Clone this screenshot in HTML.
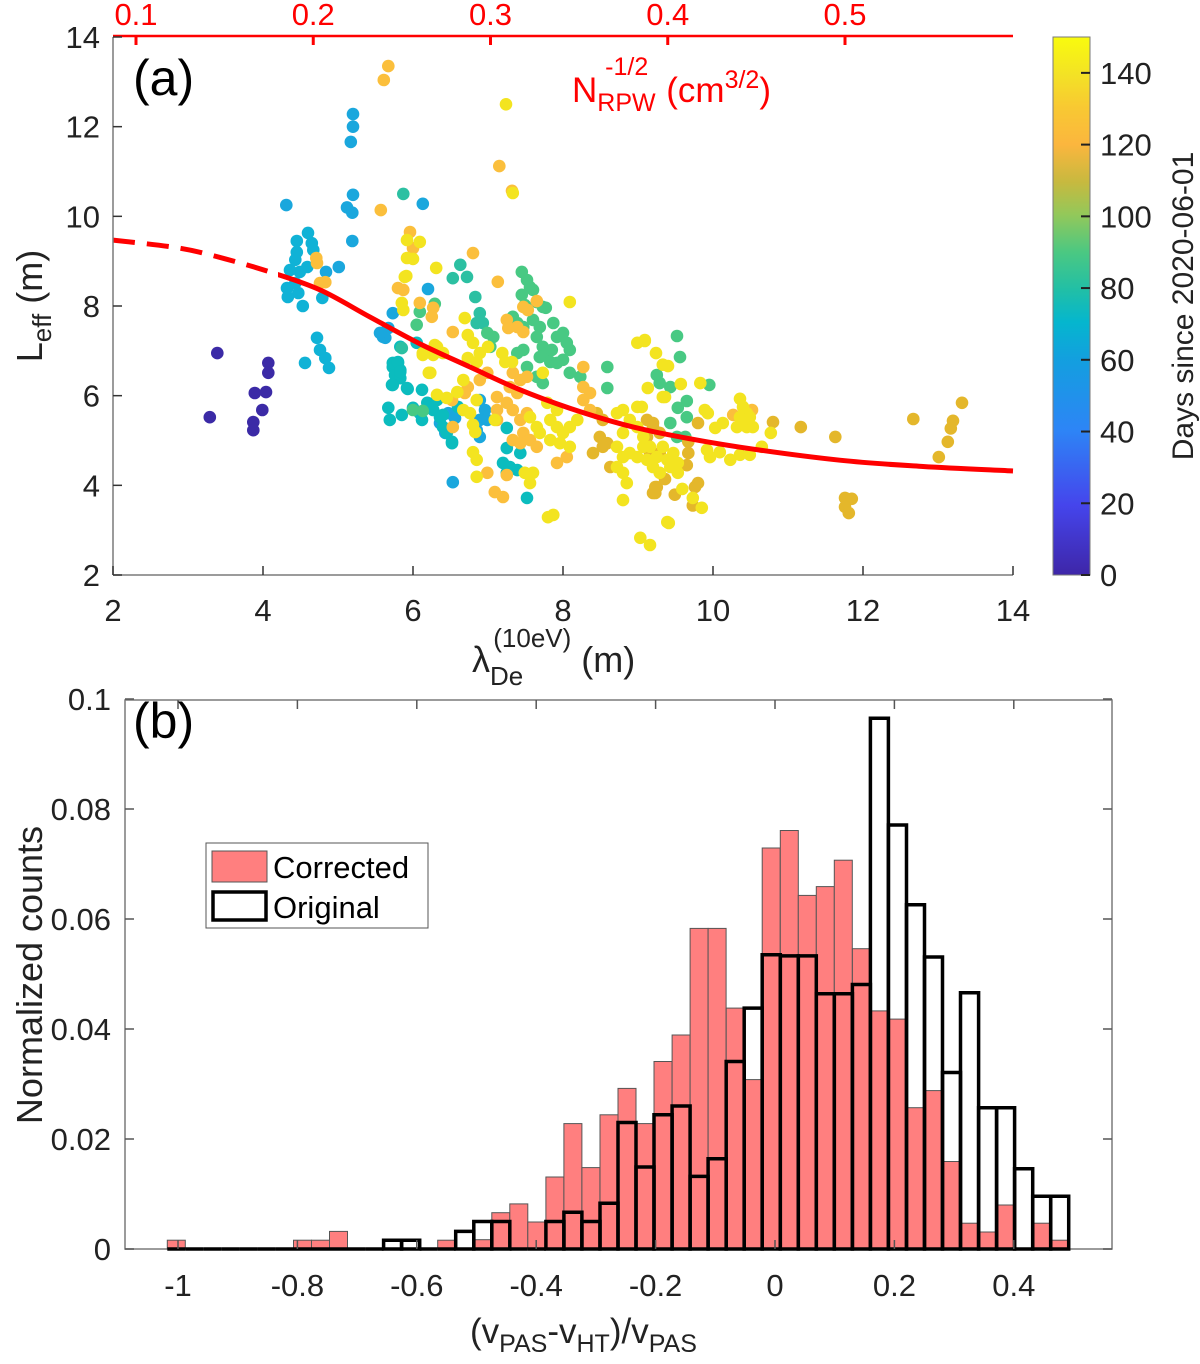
<!DOCTYPE html>
<html><head><meta charset="utf-8"><style>
body{margin:0;background:#fff}
svg{display:block;font-family:"Liberation Sans",Arial,sans-serif}
</style></head><body>
<svg id="fig" width="1200" height="1364" viewBox="0 0 1200 1364" xmlns="http://www.w3.org/2000/svg">
<defs>
<linearGradient id="parula" x1="0" y1="1" x2="0" y2="0">
<stop offset="0" stop-color="#3e26a8"/><stop offset="0.13" stop-color="#4545ec"/><stop offset="0.27" stop-color="#2d85f6"/><stop offset="0.4" stop-color="#139fdf"/><stop offset="0.47" stop-color="#05b6ce"/><stop offset="0.53" stop-color="#21bfa6"/><stop offset="0.6" stop-color="#4bc882"/><stop offset="0.67" stop-color="#93c85a"/><stop offset="0.73" stop-color="#c7b93f"/><stop offset="0.8" stop-color="#fbb63e"/><stop offset="0.87" stop-color="#f8c932"/><stop offset="0.93" stop-color="#f3e225"/><stop offset="1" stop-color="#f9fb0e"/>
</linearGradient>
</defs>
<g id="pa"></g>
<g id="pb"></g>
</svg>
<script>
// ---------- Panel (a) data ----------
const groupDays = [3, 55, 62, 68, 80, 90, 115, 123, 143];
const groupColors = ["#3b2aa6", "#1aa7dd", "#10b2d6", "#0bbcbe", "#2cc0a2", "#48c983", "#e4b72b", "#fbbf3c", "#f3e420"];
const ptsDay3 = [[3.39,6.95],[3.29,5.52],[4.07,6.73],[4.07,6.51],[3.89,6.06],[4.04,6.08],[3.99,5.68],[3.87,5.41],[3.87,5.23]];
const ptsDay55 = [[4.31,10.25],[5.2,12.28],[5.2,12.0],[5.17,11.66],[5.2,10.48],[5.12,10.2],[5.19,10.08],[5.19,9.45],[6.13,10.28],[5.73,7.84],[5.59,7.4],[5.63,7.29],[5.67,7.51],[5.6,7.31],[5.56,7.4],[6.2,8.38],[6.53,4.07],[6.47,5.61],[6.56,5.5],[6.89,5.9],[6.96,5.68],[6.89,5.46],[6.99,5.46],[6.85,5.23],[6.89,5.08],[5.01,8.87],[4.84,8.76],[6.36,5.39],[6.43,5.17]];
const ptsDay62 = [[4.6,9.63],[4.45,9.45],[4.65,9.4],[4.67,9.25],[4.45,9.2],[4.43,9.03],[4.36,8.8],[4.49,8.76],[4.59,8.87],[4.32,8.4],[4.43,8.51],[4.47,8.29],[4.33,8.2],[4.53,8.0],[4.79,8.18],[4.72,7.29],[4.76,7.02],[4.83,6.84],[4.88,6.62],[4.56,6.73]];
const ptsDay68 = [[5.8,6.73],[5.73,6.64],[5.83,6.57],[5.76,6.46],[5.83,6.39],[5.73,6.24],[5.93,6.15],[6.12,6.13],[5.67,5.73],[5.69,5.46],[5.85,5.57],[6.0,5.73],[6.09,5.61],[6.19,5.84],[6.27,5.68],[6.36,5.52],[6.12,5.46],[6.4,5.3],[6.45,5.17],[6.52,4.97],[5.73,6.73],[5.8,6.75],[5.83,6.53],[5.72,6.24],[5.92,6.17],[6.2,5.75],[6.32,5.9],[6.4,5.57],[6.6,5.75],[6.52,4.94],[7.25,4.83],[7.2,4.5],[7.29,4.41],[7.39,4.34],[7.25,4.28],[7.43,4.72],[7.52,3.72],[7.25,5.28],[6.05,7.18],[5.83,7.09]];
const ptsDay80 = [[5.87,10.5],[5.85,7.06],[6.63,8.92],[6.53,8.62],[6.72,8.65],[6.83,8.2],[6.89,7.84],[6.93,7.62],[6.85,7.62]];
const ptsDay90 = [[6.13,5.66],[6.09,7.87],[6.29,8.05],[6.05,7.58],[7.45,8.76],[7.52,8.58],[7.56,8.42],[7.45,8.25],[7.6,8.36],[7.49,8.02],[7.65,8.09],[7.73,7.98],[7.77,7.96],[6.99,7.4],[7.07,7.31],[7.03,7.09],[7.33,7.76],[7.39,7.62],[7.47,7.53],[7.6,7.69],[7.69,7.53],[7.65,7.31],[7.73,7.09],[7.79,6.95],[7.85,7.02],[7.92,7.31],[8.0,7.4],[8.05,7.18],[7.87,7.62],[7.69,6.86],[7.83,6.75],[7.92,6.73],[8.0,6.8],[8.09,7.02],[7.39,6.95],[7.47,7.02],[7.52,6.64],[7.65,6.42],[7.73,6.28],[8.59,6.64],[8.59,6.17],[8.23,6.42],[8.09,6.51],[9.25,6.46],[9.52,7.33],[9.56,6.86],[9.29,6.28],[9.43,6.19],[9.95,6.24],[9.65,5.88],[9.53,5.73],[9.65,5.52],[9.43,5.39],[9.52,5.08],[9.63,5.08],[6.0,5.68]];
const ptsDay115 = [[8.63,4.41],[9.12,5.46],[9.2,5.3],[9.29,5.17],[9.12,5.08],[9.25,3.96],[9.2,3.83],[10.8,5.41],[11.17,5.3],[11.63,5.08],[12.67,5.48],[13.32,5.84],[13.2,5.44],[13.17,5.27],[13.13,4.97],[13.01,4.63],[11.76,3.72],[11.85,3.7],[11.76,3.52],[11.81,3.38],[9.67,4.72],[9.65,4.45],[9.36,4.14],[9.23,3.96],[9.23,3.83],[9.49,3.79],[9.76,3.96],[9.8,4.05],[9.73,3.55],[9.67,4.97],[9.8,5.39],[9.2,5.39],[8.45,5.61],[8.53,5.46],[8.49,5.08],[8.59,4.94],[8.4,4.72],[8.53,4.86],[9.16,4.72],[9.29,4.72]];
const ptsDay123 = [[5.57,10.14],[5.67,13.35],[5.61,13.04],[4.71,9.07],[4.72,8.96],[4.76,8.51],[4.83,8.53],[5.96,9.65],[6.0,9.29],[5.8,8.4],[5.87,8.36],[6.09,8.07],[6.27,7.96],[6.25,7.76],[6.8,9.18],[7.13,8.54],[7.47,7.98],[7.53,7.91],[7.65,8.11],[7.25,7.69],[7.39,7.53],[7.47,7.42],[7.27,7.51],[7.33,6.51],[7.43,6.35],[7.52,6.42],[7.29,6.19],[7.39,6.06],[7.25,5.84],[7.33,5.68],[7.43,5.46],[7.52,5.61],[7.47,5.17],[7.56,5.01],[7.65,4.86],[7.43,4.94],[7.33,5.01],[7.92,4.5],[8.05,4.63],[7.12,5.68],[7.12,5.46],[7.12,5.97],[6.99,6.51],[6.89,6.35],[6.73,6.19],[6.69,6.06],[6.52,5.9],[6.53,5.3],[8.27,6.64],[8.27,6.19],[8.36,6.06],[8.27,5.9],[8.36,5.68],[6.99,4.28],[7.09,3.85],[7.2,3.74],[7.25,4.23],[7.15,11.12],[7.32,10.57],[10.27,5.57],[10.52,5.68],[6.53,7.42]];
const ptsDay143 = [[5.92,9.47],[6.09,9.43],[5.92,9.07],[6.0,9.05],[6.31,8.85],[5.91,8.67],[5.85,8.07],[5.87,7.91],[6.13,6.91],[6.21,6.51],[6.29,7.13],[6.4,6.95],[7.33,10.52],[7.24,12.5],[5.89,8.65],[8.09,8.09],[8.99,7.18],[9.09,7.24],[9.24,6.95],[9.33,6.69],[9.13,6.17],[9.33,5.97],[6.69,7.73],[6.73,7.35],[6.8,7.18],[6.89,6.95],[7.0,7.09],[6.73,6.84],[6.85,6.75],[6.67,6.35],[6.59,6.08],[6.32,6.02],[6.45,5.95],[6.85,5.9],[6.76,5.61],[6.67,5.68],[6.83,5.19],[6.8,4.74],[6.85,4.57],[6.85,4.19],[7.09,5.46],[6.23,6.51],[6.13,6.95],[6.32,7.09],[6.27,6.91],[7.19,6.95],[7.23,6.75],[7.32,6.75],[7.73,6.51],[7.56,5.52],[7.65,5.3],[7.83,5.46],[7.92,5.3],[8.0,5.17],[8.09,5.3],[8.19,5.46],[7.83,5.01],[7.96,4.94],[8.09,4.86],[7.69,5.17],[7.79,5.84],[7.92,5.68],[8.72,5.61],[8.8,5.68],[8.99,5.75],[8.89,5.46],[8.99,5.3],[8.8,5.17],[8.72,4.86],[8.89,4.72],[8.99,4.63],[8.8,4.63],[8.72,4.41],[8.8,4.28],[8.85,4.05],[8.8,3.67],[9.07,4.86],[9.25,4.63],[9.33,4.86],[9.2,4.41],[9.29,4.28],[6.8,5.35],[7.49,4.28],[7.6,4.28],[7.56,4.05],[7.8,3.29],[7.87,3.34],[9.03,2.83],[9.16,2.67],[9.39,3.18],[9.09,7.22],[9.4,6.66],[9.57,6.26],[9.83,6.28],[9.36,5.97],[9.89,5.68],[9.93,5.61],[10.36,5.93],[10.4,5.75],[10.45,5.61],[10.36,5.52],[10.49,5.52],[10.32,5.3],[10.45,5.3],[10.53,5.3],[10.4,5.46],[10.03,5.28],[10.13,5.39],[10.77,5.17],[9.92,4.79],[9.96,4.63],[10.09,4.74],[10.23,4.57],[10.36,4.68],[10.49,4.68],[10.65,4.86],[9.53,4.28],[9.59,3.92],[9.73,3.72],[9.85,3.5],[9.41,3.16],[9.07,5.08],[9.16,4.86],[9.39,4.57],[9.12,4.57],[9.47,4.72],[9.43,4.41],[9.53,4.5],[9.05,5.75]];
const pointGroups = [ptsDay3, ptsDay55, ptsDay62, ptsDay68, ptsDay80, ptsDay90, ptsDay115, ptsDay123, ptsDay143];
const fitX = [2, 2.89, 3.5, 4.09, 4.76, 5.43, 6.1, 6.76, 7.4, 8.09, 8.8, 9.43, 10.36, 11.69, 12.8, 14];
const fitY = [9.47, 9.29, 9.05, 8.76, 8.36, 7.75, 7.15, 6.64, 6.15, 5.72, 5.36, 5.12, 4.85, 4.56, 4.42, 4.32];
const fitDashEnd = 4.2;
const xTicksA = [2, 4, 6, 8, 10, 12, 14];
const yTicksA = [2, 4, 6, 8, 10, 12, 14];
const topTicks = [0.1, 0.2, 0.3, 0.4, 0.5];
const cbTicks = [0, 20, 40, 60, 80, 100, 120, 140];

// ---------- Panel (b) data ----------
const binStart = -1.018;
const binWidth = 0.0302;
const correctedCounts = [0.0016,0,0,0,0,0,0,0.0016,0.0016,0.0032,0,0,0,0,0,0.0016,0,0.0017,0.0066,0.0082,0.0049,0.0131,0.0228,0.0148,0.0244,0.0292,0.0228,0.0341,0.0389,0.0583,0.0583,0.0438,0.0308,0.0729,0.0761,0.0643,0.0659,0.0707,0.0546,0.0433,0.0418,0.0257,0.0288,0.0159,0.0047,0.0031,0.008,0,0.0047,0.0016];
const originalCounts = [0,0,0,0,0,0,0,0,0,0,0,0,0.0016,0.0016,0,0,0.0032,0.005,0.005,0,0,0.005,0.0067,0.005,0.0083,0.023,0.0149,0.0244,0.026,0.0132,0.0164,0.0341,0.0438,0.0535,0.0533,0.0533,0.0464,0.0464,0.0481,0.0965,0.0771,0.0626,0.0531,0.0321,0.0466,0.0257,0.0257,0.0146,0.0096,0.0096];
const xTicksB = [-1, -0.8, -0.6, -0.4, -0.2, 0, 0.2, 0.4];
const yTicksB = [0, 0.02, 0.04, 0.06, 0.08, 0.1];

const NS = "http://www.w3.org/2000/svg";
function mk(parent, tag, attrs, text) {
  const e = document.createElementNS(NS, tag);
  for (const k in attrs) e.setAttribute(k, attrs[k]);
  if (text !== undefined) e.textContent = text;
  parent.appendChild(e);
  return e;
}
const pa = document.getElementById("pa");
const pb = document.getElementById("pb");

const AX0 = 113, AX1 = 1013, AY0 = 575, AY1 = 37;
const xa = v => AX0 + (v - 2) / 12 * (AX1 - AX0);
const ya = v => AY0 - (v - 2) / 12 * (AY0 - AY1);
const xTop = v => 136 + (v - 0.1) / 0.4 * (845 - 136);
const cbY = d => 575 - d / 150 * 538;

pointGroups.forEach((grp, gi) => {
  const g = mk(pa, "g", {fill: groupColors[gi]});
  
  
  grp.forEach(p => {
    const c = mk(g, "circle", {cx: xa(p[0]).toFixed(1), cy: ya(p[1]).toFixed(1), r: 6.3});
    
    
  });
});

function smoothPath(px, py) {
  let d = "M" + px[0].toFixed(1) + "," + py[0].toFixed(1);
  for (let i = 0; i < px.length - 1; i++) {
    const i0 = Math.max(0, i - 1), i3 = Math.min(px.length - 1, i + 2);
    const c1x = px[i] + (px[i + 1] - px[i0]) / 6, c1y = py[i] + (py[i + 1] - py[i0]) / 6;
    const c2x = px[i + 1] - (px[i3] - px[i]) / 6, c2y = py[i + 1] - (py[i3] - py[i]) / 6;
    d += " C" + c1x.toFixed(1) + "," + c1y.toFixed(1) + " " + c2x.toFixed(1) + "," + c2y.toFixed(1) + " " + px[i + 1].toFixed(1) + "," + py[i + 1].toFixed(1);
  }
  return d;
}
const fpx = fitX.map(xa), fpy = fitY.map(ya);
const curvePath = smoothPath(fpx, fpy);
const clipD = mk(document.querySelector("defs"), "clipPath", {id: "clipDash"});
mk(clipD, "rect", {x: 0, y: 0, width: xa(fitDashEnd), height: 700});
const clipS = mk(document.querySelector("defs"), "clipPath", {id: "clipSolid"});
mk(clipS, "rect", {x: xa(fitDashEnd), y: 0, width: 1200, height: 700});
const fd = mk(pa, "path", {d: curvePath, fill: "none", stroke: "#ff0000", "stroke-width": 5, "stroke-dasharray": "22,12", "clip-path": "url(#clipDash)"});


const fs = mk(pa, "path", {d: curvePath, fill: "none", stroke: "#ff0000", "stroke-width": 5, "clip-path": "url(#clipSolid)"});



const axl = mk(pa, "line", {x1: AX0, y1: AY1, x2: AX0, y2: AY0, stroke: "#7a7a7a", "stroke-width": 1.5});


const axb = mk(pa, "line", {x1: AX0, y1: AY0, x2: AX1, y2: AY0, stroke: "#7a7a7a", "stroke-width": 1.5});


const axt = mk(pa, "line", {x1: AX0, y1: 36, x2: AX1, y2: 36, stroke: "#ff0000", "stroke-width": 2.5});


yTicksA.forEach(v => {
  mk(pa, "line", {x1: AX0, y1: ya(v), x2: AX0 + 9, y2: ya(v), stroke: "#333", "stroke-width": 1.5});
  const t = mk(pa, "text", {x: 100, y: ya(v) + 11, "text-anchor": "end", "font-size": 31, fill: "#222"}, String(v));
  
  
});
xTicksA.forEach(v => {
  mk(pa, "line", {x1: xa(v), y1: AY0, x2: xa(v), y2: AY0 - 9, stroke: "#333", "stroke-width": 1.5});
  const t = mk(pa, "text", {x: xa(v), y: 621, "text-anchor": "middle", "font-size": 31, fill: "#222"}, String(v));
  
  
});
topTicks.forEach(v => {
  mk(pa, "line", {x1: xTop(v), y1: 36, x2: xTop(v), y2: 45, stroke: "#ff0000", "stroke-width": 3});
  const t = mk(pa, "text", {x: xTop(v), y: 25, "text-anchor": "middle", "font-size": 31, fill: "#ff0000"}, String(v));
  
  
});

const cb = mk(pa, "rect", {x: 1053, y: 37, width: 37, height: 538, fill: "url(#parula)", stroke: "#7a7a7a", "stroke-width": 1});


cbTicks.forEach(v => {
  mk(pa, "line", {x1: 1081, y1: cbY(v), x2: 1090, y2: cbY(v), stroke: "#222", "stroke-width": 2});
  const t = mk(pa, "text", {x: 1100, y: cbY(v) + 11, "font-size": 31, fill: "#222"}, String(v));
  
  
});

// ---------- Panel b ----------
const BX0 = 125, BX1 = 1112, BY0 = 1249, BY1 = 700;
const xb = v => 775 + v * 597;
const yb = v => BY0 - v / 0.1 * (BY0 - 699);
const frame = mk(pb, "rect", {x: BX0, y: BY1, width: BX1 - BX0, height: BY0 - BY1, fill: "none", stroke: "#7a7a7a", "stroke-width": 1.5});


correctedCounts.forEach((v, k) => {
  if (v <= 0) return;
  const x0 = xb(binStart + k * binWidth), x1 = xb(binStart + (k + 1) * binWidth);
  const r = mk(pb, "rect", {x: x0.toFixed(1), y: yb(v).toFixed(1), width: (x1 - x0).toFixed(1), height: (BY0 - yb(v)).toFixed(1), fill: "#ff7f7f", stroke: "#555", "stroke-width": 1});
  
  
});
originalCounts.forEach((v, k) => {
  const x0 = xb(binStart + k * binWidth).toFixed(1), x1 = xb(binStart + (k + 1) * binWidth).toFixed(1);
  const yt = yb(v).toFixed(1);
  const r = mk(pb, "path", {d: "M" + x0 + "," + BY0 + " V" + yt + " H" + x1 + " V" + BY0 + " Z", fill: "none", stroke: "#000", "stroke-width": 3.5, "stroke-linejoin": "miter"});
  
  
});
yTicksB.forEach(v => {
  mk(pb, "line", {x1: BX0, y1: yb(v), x2: BX0 + 9, y2: yb(v), stroke: "#555", "stroke-width": 1.5});
  mk(pb, "line", {x1: BX1, y1: yb(v), x2: BX1 - 9, y2: yb(v), stroke: "#555", "stroke-width": 1.5});
  const t = mk(pb, "text", {x: 111, y: yb(v) + 11, "text-anchor": "end", "font-size": 31, fill: "#222"}, String(v));
  
  
});
xTicksB.forEach(v => {
  mk(pb, "line", {x1: xb(v), y1: BY0, x2: xb(v), y2: BY0 - 9, stroke: "#555", "stroke-width": 1.5});
  mk(pb, "line", {x1: xb(v), y1: BY1, x2: xb(v), y2: BY1 + 9, stroke: "#555", "stroke-width": 1.5});
  const t = mk(pb, "text", {x: xb(v), y: 1296, "text-anchor": "middle", "font-size": 31, fill: "#222"}, String(v));
  
  
});
</script>
<script>
const fig = document.getElementById("fig");
fig.insertAdjacentHTML("beforeend", `
<text x="133" y="95" font-size="50" fill="#000">(a)</text>
<text x="572" y="102" font-size="35" fill="#ff0000">N<tspan font-size="25" dy="9">RPW</tspan><tspan font-size="25" dx="-50" dy="-36">-1/2</tspan><tspan dx="18" dy="27">(cm</tspan><tspan font-size="25" dy="-14">3/2</tspan><tspan dy="14">)</tspan></text>
<g transform="translate(42,306) rotate(-90)"><text x="0" y="0" text-anchor="middle" font-size="36" fill="#222">L<tspan font-size="26" dy="9">eff</tspan><tspan dy="-9"> (m)</tspan></text></g>
<text x="472" y="672" font-size="36" fill="#222">λ<tspan font-size="26" dy="13">De</tspan><tspan font-size="26" dx="-30" dy="-38">(10eV)</tspan><tspan dx="10" dy="25">(m)</tspan></text>
<g transform="translate(1193,306) rotate(-90)"><text x="0" y="0" text-anchor="middle" font-size="30" fill="#222">Days since 2020-06-01</text></g>
<text x="133" y="738" font-size="50" fill="#000">(b)</text>
<g transform="translate(42,975) rotate(-90)"><text x="0" y="0" text-anchor="middle" font-size="36" fill="#222">Normalized counts</text></g>
<text x="470" y="1343" font-size="35" fill="#222">(v<tspan font-size="25" dy="9">PAS</tspan><tspan dy="-9">-v</tspan><tspan font-size="25" dy="9">HT</tspan><tspan dy="-9">)/v</tspan><tspan font-size="25" dy="9">PAS</tspan></text>
<g>
<rect x="206" y="843" width="222" height="85" fill="#fff" stroke="#555" stroke-width="1"/>
<rect x="212" y="851" width="55" height="31" fill="#ff7f7f" stroke="#555" stroke-width="1"/>
<text x="273" y="878" font-size="31" fill="#000">Corrected</text>
<rect x="213" y="892" width="53" height="28" fill="none" stroke="#000" stroke-width="3.5"/>
<text x="273" y="918" font-size="31" fill="#000">Original</text>
</g>`);
</script>
</body></html>
